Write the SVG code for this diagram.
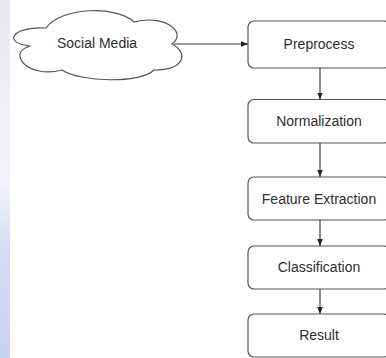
<svg xmlns="http://www.w3.org/2000/svg" width="386" height="358" viewBox="0 0 386 358">
  <defs>
    <marker id="arr" viewBox="0 0 10 10" refX="10" refY="5" markerWidth="7" markerHeight="7" markerUnits="userSpaceOnUse" orient="auto">
      <path d="M0,1 L10,5 L0,9 Z" fill="#222"/>
    </marker>
    <linearGradient id="wm" x1="0" y1="0" x2="0" y2="1">
      <stop offset="0" stop-color="#e6e8ec"/>
      <stop offset="0.5" stop-color="#f4f5f8"/>
      <stop offset="0.7" stop-color="#d3dcf3"/>
      <stop offset="1" stop-color="#c9d4f2"/>
    </linearGradient>
  </defs>
  <style>
    .box { fill: #ffffff; stroke: #555555; stroke-width: 1.2; }
    .lbl { font-family: "Liberation Sans", Arial, sans-serif; font-size: 14px; fill: #2e2e2e; text-anchor: middle; dominant-baseline: central; }
    .edge { stroke: #333333; stroke-width: 1.1; fill: none; marker-end: url(#arr); }
  </style>
  <rect x="0" y="0" width="386" height="358" fill="#ffffff"/>
  <rect x="0" y="0" width="10" height="358" fill="url(#wm)"/>
  <g id="social-media">
    <path class="box" d="M 46,28 C 12,26 2,43 30,46 C 6,53 28,79 62,70 C 80,82 140,84 154,70 C 186,70 188,52 172,44 C 188,32 164,14 134,22 C 118,6 62,6 46,28 Z"/>
    <text class="lbl" x="97" y="43">Social Media</text>
  </g>
  <g id="preprocess">
    <rect class="box" x="248" y="21" width="142" height="47" rx="6"/>
    <text class="lbl" x="319" y="44">Preprocess</text>
  </g>
  <g id="normalization">
    <rect class="box" x="248" y="99.5" width="142" height="43.5" rx="6"/>
    <text class="lbl" x="319" y="121">Normalization</text>
  </g>
  <g id="feature-extraction">
    <rect class="box" x="248" y="177" width="142" height="43" rx="6"/>
    <text class="lbl" x="319" y="198.5">Feature Extraction</text>
  </g>
  <g id="classification">
    <rect class="box" x="248" y="246" width="142" height="43" rx="6"/>
    <text class="lbl" x="319" y="267">Classification</text>
  </g>
  <g id="result">
    <rect class="box" x="248" y="314" width="142" height="43" rx="6"/>
    <text class="lbl" x="319" y="335">Result</text>
  </g>
  <g id="connectors">
    <path class="edge" d="M 174,44 L 248,44"/>
    <path class="edge" d="M 320,68 L 320,99.5"/>
    <path class="edge" d="M 320,143 L 320,177"/>
    <path class="edge" d="M 320,220 L 320,246"/>
    <path class="edge" d="M 320,289 L 320,314"/>
  </g>
</svg>
